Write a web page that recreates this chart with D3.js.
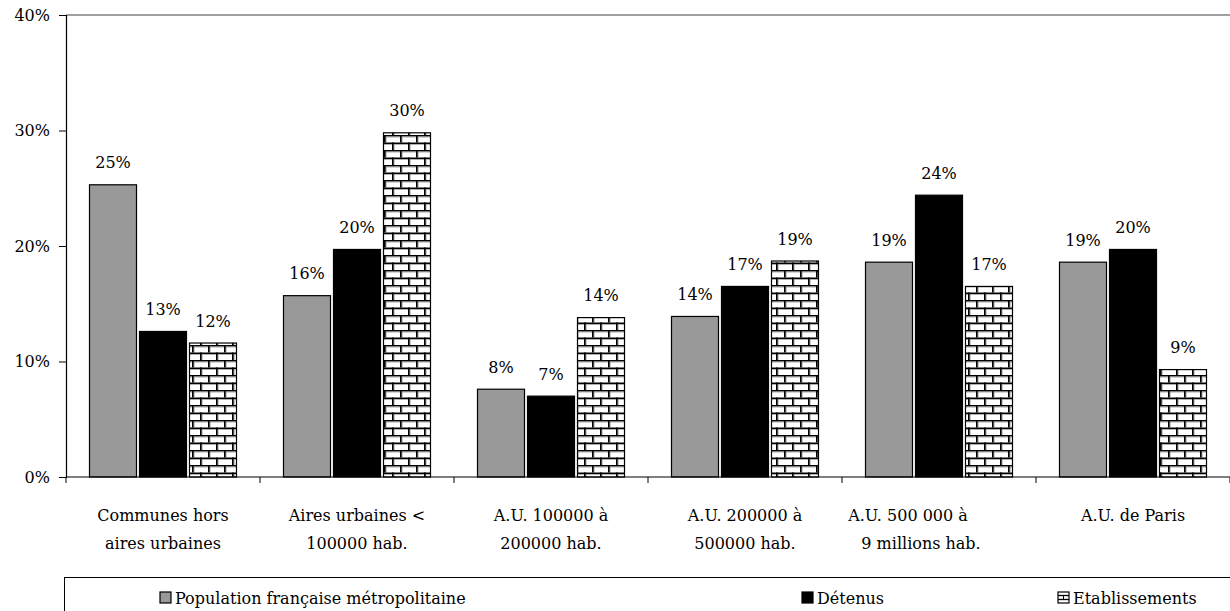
<!DOCTYPE html>
<html><head><meta charset="utf-8">
<script src="https://cdn.jsdelivr.net/npm/d3@7"></script>
<style>body{margin:0;background:#fff}svg{display:block}text{font-family:"DejaVu Serif",serif;font-size:16px;fill:#000}</style>
</head><body>
<script>
const categories = [["Communes hors","aires urbaines"],["Aires urbaines <","100000 hab."],["A.U. 100000 à","200000 hab."],["A.U. 200000 à","500000 hab."],["A.U. 500 000 à","9 millions hab."],["A.U. de Paris"]];
const seriesNames = ["Population française métropolitaine","Détenus","Etablissements"];
const population = [0.253, 0.157, 0.076, 0.139, 0.186, 0.186];
const detenus = [0.126, 0.197, 0.070, 0.165, 0.244, 0.197];
const etablissements = [0.116, 0.298, 0.138, 0.187, 0.165, 0.093];
const yTicks = [0, 0.1, 0.2, 0.3, 0.4];

(function(){
const W = 1230, H = 611;
const svg = d3.select("body").append("svg").attr("width", W).attr("height", H);
const defs = svg.append("defs");
const pat = defs.append("pattern").attr("id","brick").attr("patternUnits","userSpaceOnUse")
  .attr("width",16).attr("height",15);
pat.append("rect").attr("width",16).attr("height",15).attr("fill","#fff");
[[0,0],[7.5,8]].forEach(([yy,xx])=>{
  pat.append("rect").attr("x",0).attr("y",yy).attr("width",16).attr("height",1.6).attr("fill","#000");
  pat.append("rect").attr("x",0).attr("y",yy+1.6).attr("width",16).attr("height",0.9).attr("fill","#aaa");
  pat.append("rect").attr("x",xx).attr("y",yy).attr("width",1.8).attr("height",7.5).attr("fill","#000");
  pat.append("rect").attr("x",xx+1.8).attr("y",yy+1.6).attr("width",0.8).attr("height",5.9).attr("fill","#aaa");
});

const pLeft = 66, pRight = 1230, pTop = 15, pBottom = 477;
const x = d3.scaleBand().domain(d3.range(categories.length)).range([pLeft, pRight]).padding(0);
const xs = d3.scaleBand().domain(d3.range(3)).range([23.5, x.bandwidth()-23.5]).paddingInner(0.06);
const y = d3.scaleLinear().domain([0, 0.4]).range([pBottom, pTop]);
const fills = ["#999999", "#000000", "url(#brick)"];
const data = [population, detenus, etablissements];

svg.append("line").attr("x1",pLeft).attr("x2",pRight).attr("y1",pTop).attr("y2",pTop).attr("stroke","#808080").attr("stroke-width",1.3);

const g = svg.append("g");
data.forEach((vals, s) => {
  vals.forEach((v, i) => {
    const bx = x(i) + xs(s);
    g.append("rect").attr("x", bx).attr("y", y(v)).attr("width", xs.bandwidth())
      .attr("height", y(0) - y(v)).attr("fill", fills[s]).attr("stroke","#000").attr("stroke-width",1.2);
    g.append("text").attr("x", bx + xs.bandwidth()/2).attr("y", y(v) - 16.5)
      .attr("text-anchor","middle").text(Math.round(v*100) + "%");
  });
});

const yAxis = d3.axisLeft(y).tickValues(yTicks).tickFormat(d3.format(".0%")).tickSize(7).tickPadding(9);
const ya = svg.append("g").attr("transform",`translate(${pLeft},0)`).call(yAxis);
ya.select(".domain").attr("stroke","#000").attr("stroke-width",1.2);
ya.selectAll(".tick line").attr("stroke","#000");
ya.selectAll("text").style("font-family",'"DejaVu Serif",serif').style("font-size","16px").attr("fill","#000");

const xa = svg.append("g").attr("transform",`translate(0,${pBottom})`);
xa.append("line").attr("x1",pLeft).attr("x2",pRight).attr("stroke","#000").attr("stroke-width",1.2);
d3.range(categories.length+1).forEach(i=>{
  const tx = i < categories.length ? x(i) : pRight;
  xa.append("line").attr("x1",tx).attr("x2",tx).attr("y1",0).attr("y2",6).attr("stroke","#000");
});
const lineOffsets = {4: [-31, -18]};
categories.forEach((lines, i) => {
  lines.forEach((t, k) => {
    const off = lineOffsets[i] ? lineOffsets[i][k] : 0;
    xa.append("text").attr("x", x(i) + x.bandwidth()/2 + off).attr("y", 44 + k*28)
      .attr("text-anchor","middle").text(t);
  });
});

const lg = svg.append("g");
lg.append("rect").attr("x",64.5).attr("y",577.5).attr("width",1180).attr("height",50).attr("fill","none").attr("stroke","#000").attr("stroke-width",1);
const legX = [160, 802, 1058];
seriesNames.forEach((n, s) => {
  lg.append("rect").attr("x", legX[s]).attr("y", 592).attr("width",11).attr("height",11)
    .attr("fill", s===2 ? "#fff" : fills[s]).attr("stroke","#000").attr("stroke-width",1.2);
  if (s===2) {
    [595.5, 599.5].forEach(yy => lg.append("line").attr("x1",legX[s]).attr("x2",legX[s]+11).attr("y1",yy).attr("y2",yy).attr("stroke","#000").attr("stroke-width",1.3));
    lg.append("line").attr("x1",legX[s]+5.5).attr("x2",legX[s]+5.5).attr("y1",595.5).attr("y2",599.5).attr("stroke","#000");
  }
  lg.append("text").attr("x", legX[s] + 15).attr("y", 604).text(n);
});
})();
</script>
</body></html>
